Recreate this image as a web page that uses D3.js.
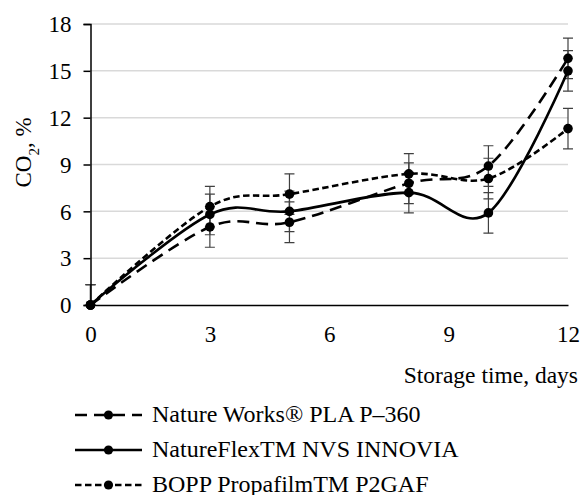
<!DOCTYPE html>
<html>
<head>
<meta charset="utf-8">
<script src="https://cdn.jsdelivr.net/npm/d3@7"></script>
<style>
  body { margin: 0; background: #fff; }
  text { font-family: "Liberation Serif", "Times New Roman", serif; fill: #000; }
</style>
</head>
<body>
<svg id="chart" width="584" height="495"></svg>
<script>
// Storage days on the x axis
var days = [0, 3, 5, 8, 10, 12];

// CO2 values, %
var plaValues  = [0, 5.0, 5.3, 7.8, 8.9, 15.8];
var flexValues = [0, 5.8, 6.0, 7.2, 5.9, 15.0];
var boppValues = [0, 6.3, 7.1, 8.4, 8.1, 11.3];

// Error bar half lengths
var plaErr  = [1.3, 1.3, 1.3, 1.3, 1.3, 1.3];
var flexErr = [1.3, 1.3, 1.3, 1.3, 1.3, 1.3];
var boppErr = [1.3, 1.3, 1.3, 1.3, 1.3, 1.3];

var seriesNames = ["Nature Works® PLA P–360", "NatureFlexTM NVS INNOVIA", "BOPP PropafilmTM P2GAF"];
var xTicks = [0, 3, 6, 9, 12];
var yTicks = [0, 3, 6, 9, 12, 15, 18];

// Build the series list for drawing
var series = [
  {name: seriesNames[0], values: plaValues,  err: plaErr,  dash: "12,7"},
  {name: seriesNames[1], values: flexValues, err: flexErr, dash: null},
  {name: seriesNames[2], values: boppValues, err: boppErr, dash: "6.5,3.5"}
];

var svg = d3.select("#chart"),
    margin = {top: 24, left: 90.5},
    width = 568 - margin.left,
    height = 305 - margin.top,
    g = svg.append("g").attr("transform", "translate(" + margin.left + "," + margin.top + ")");

var x = d3.scaleLinear().domain([0, 12]).range([0, width]);
var y = d3.scaleLinear().domain([0, 18]).range([height, 0]);

// Gridlines
g.append("g")
  .selectAll("line")
  .data(yTicks.slice(1))
  .enter().append("line")
    .attr("x1", 0).attr("x2", width)
    .attr("y1", function(d) { return y(d); })
    .attr("y2", function(d) { return y(d); })
    .attr("stroke", "#d9d9d9")
    .attr("stroke-width", 1.5);

// Clip for error bars hanging below zero
svg.append("defs").append("clipPath").attr("id", "plotclip")
  .append("rect").attr("x", -10).attr("y", -10).attr("width", width + 20).attr("height", height + 10);

var plot = g.append("g").attr("clip-path", "url(#plotclip)");

// Error bars
series.forEach(function(s) {
  var eb = plot.append("g").attr("stroke", "#404040").attr("stroke-width", 1.2);
  days.forEach(function(d, i) {
    var hi = y(s.values[i] + s.err[i]), lo = y(s.values[i] - s.err[i]), cx = x(d);
    eb.append("line").attr("x1", cx).attr("x2", cx).attr("y1", hi).attr("y2", lo);
    eb.append("line").attr("x1", cx - 5).attr("x2", cx + 5).attr("y1", hi).attr("y2", hi);
    eb.append("line").attr("x1", cx - 5).attr("x2", cx + 5).attr("y1", lo).attr("y2", lo);
  });
});

// Axes
var yAxis = g.append("g")
  .call(d3.axisLeft(y).tickValues(yTicks).tickSize(7).tickPadding(12));
yAxis.select(".domain").attr("stroke", "#000").attr("stroke-width", 1.5);
yAxis.selectAll(".tick line").attr("stroke", "#000").attr("stroke-width", 1.5);
yAxis.selectAll("text").attr("font-size", 23).attr("font-family", "Liberation Serif").attr("dy", "0.34em");

var xAxis = g.append("g")
  .attr("transform", "translate(0," + height + ")")
  .call(d3.axisBottom(x).tickValues(xTicks).tickSize(0));
xAxis.select(".domain").attr("stroke", "#000").attr("stroke-width", 1.5);
xAxis.selectAll("text").attr("font-size", 23).attr("font-family", "Liberation Serif")
  .attr("y", 36.5).attr("dy", null);

// Lines
var line = d3.line()
  .curve(d3.curveCardinal.tension(0))
  .x(function(d) { return x(d[0]); })
  .y(function(d) { return y(d[1]); });

series.forEach(function(s) {
  var pts = days.map(function(d, i) { return [d, s.values[i]]; });
  g.append("path")
    .datum(pts)
    .attr("fill", "none")
    .attr("stroke", "#000")
    .attr("stroke-width", 2.6)
    .attr("stroke-dasharray", s.dash)
    .attr("d", line);
  g.append("g").selectAll("circle")
    .data(pts)
    .enter().append("circle")
      .attr("cx", function(d) { return x(d[0]); })
      .attr("cy", function(d) { return y(d[1]); })
      .attr("r", 4.8)
      .attr("fill", "#000");
});

// Axis titles
svg.append("text")
  .attr("transform", "translate(31,152.5) rotate(-90)")
  .attr("text-anchor", "middle")
  .attr("font-size", 23)
  .html('CO<tspan baseline-shift="sub" font-size="15">2</tspan>, %');

svg.append("text")
  .attr("x", 578).attr("y", 383)
  .attr("text-anchor", "end")
  .attr("font-size", 23.5)
  .text("Storage time, days");

// Legend
var legend = svg.append("g").attr("transform", "translate(75,0)");
series.forEach(function(s, i) {
  var ly = 415 + i * 35;
  legend.append("line")
    .attr("x1", 0).attr("x2", 67).attr("y1", ly).attr("y2", ly)
    .attr("stroke", "#000").attr("stroke-width", 2.6)
    .attr("stroke-dasharray", s.dash);
  legend.append("circle").attr("cx", 33.5).attr("cy", ly).attr("r", 4.6).attr("fill", "#000");
  legend.append("text")
    .attr("x", 77).attr("y", ly + 6.5)
    .attr("font-size", 24)
    .text(s.name);
});
</script>
</body>
</html>
